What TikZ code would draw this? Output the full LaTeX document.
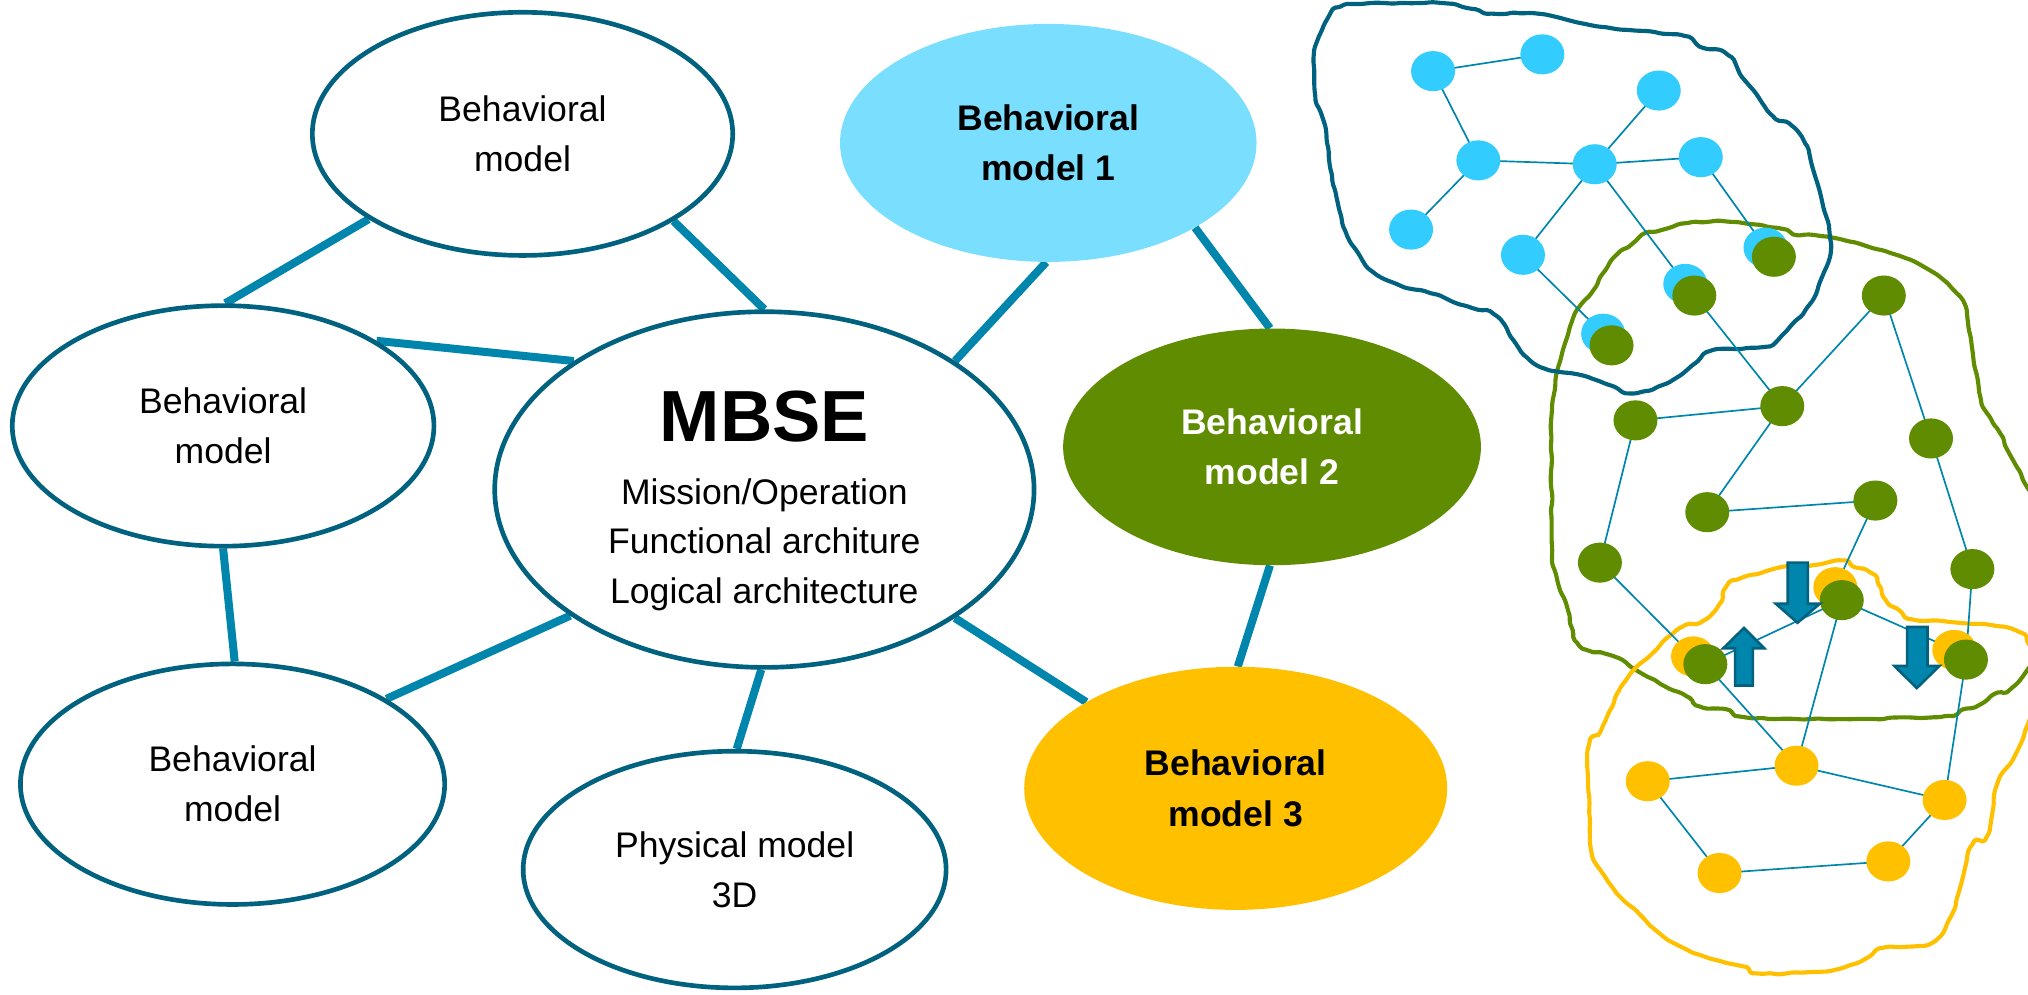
\documentclass[tikz,border=0pt]{standalone}
\usepackage{fontspec}
\setmainfont{Liberation Sans}
\usetikzlibrary{shapes.geometric,decorations.pathmorphing}
\definecolor{rim}{HTML}{00627F}
\definecolor{link}{HTML}{0085AD}
\definecolor{skyfill}{HTML}{7ADFFF}
\definecolor{nodeblue}{HTML}{33CCFF}
\definecolor{mbgreen}{HTML}{5F8C00}
\definecolor{mbyellow}{HTML}{FFC000}
\pgfdeclarelayer{background}
\pgfsetlayers{background,main}
\begin{document}
\begin{tikzpicture}[x=1pt,y=-1pt,
  bubble/.style={ellipse, draw=rim, line width=3.6pt, fill=white, inner sep=0pt,
    align=center, font=\fontsize{27.5}{38.7}\selectfont},
  keybubble/.style={ellipse, inner sep=0pt, align=center,
    font=\fontsize{27.5}{38.7}\selectfont\bfseries},
  linetext/.style={anchor=base, inner sep=0pt, font=\fontsize{27.5}{38.7}\selectfont},
  bond/.style={draw=link, line width=6.2pt},
  netdot/.style={ellipse, inner sep=0pt, minimum width=34pt, minimum height=31pt},
  bluedot/.style={netdot, fill=nodeblue},
  greendot/.style={netdot, fill=mbgreen},
  yellowdot/.style={netdot, fill=mbyellow},
  wire/.style={draw=link, line width=1.3pt},
  rimline/.style={line width=3.2pt, line join=round, rounded corners=1.5pt,
    decoration={random steps, segment length=6pt, amplitude=0.8pt}, decorate},
  blockarrow/.style={fill=link, draw=rim, line width=2pt, line join=miter}]
\useasboundingbox (0,0) rectangle (1568,769);

% ---------- mind map of models ----------
\node[bubble, minimum width=325pt, minimum height=188pt] (bmtop) at (404,103.5) {Behavioral\\model};
\node[bubble, minimum width=326pt, minimum height=186pt] (bmleft) at (172.5,329.3) {Behavioral\\model};
\node[bubble, minimum width=328pt, minimum height=186pt] (bmlow) at (179.8,606.3) {Behavioral\\model};
\node[bubble, minimum width=327pt, minimum height=183pt] (phys) at (568,672.3) {Physical model\\3D};
\node[bubble, minimum width=417pt, minimum height=275pt] (mbse) at (591,378.5) {};
\node[anchor=base, inner sep=0pt, font=\fontsize{56}{60}\selectfont\bfseries] (mbsetitle) at (591,341.5) {MBSE};
\node[linetext] (mbseops) at (591,389.7) {Mission/Operation};
\node[linetext] (mbsefun) at (591,428.3) {Functional architure};
\node[linetext] (mbselog) at (591,466.5) {Logical architecture};

\node[keybubble, fill=skyfill, minimum width=322pt, minimum height=184pt] (bm1) at (810.5,110.5) {Behavioral\\model 1};
\node[keybubble, fill=mbgreen, text=white, minimum width=323pt, minimum height=183pt] (bm2) at (983.5,345.5) {Behavioral\\model 2};
\node[keybubble, fill=mbyellow, minimum width=327pt, minimum height=188pt] (bm3) at (955.4,609.5) {Behavioral\\model 3};

\begin{pgfonlayer}{background}
\draw[bond] (bmtop.209.8) -- (bmleft.89.3);
\draw[bond] (bmtop.330.3) -- (mbse.90.5);
\draw[bond] (bmleft.29.4) -- (mbse.146.8);
\draw[bond] (bmleft.270) -- (bmlow.89.6);
\draw[bond] (mbse.213.5) -- (bmlow.29.1);
\draw[bond] (mbse.269.6) -- (phys.89.8);
\draw[bond] (mbse.326.5) -- (bm3.150.6);
\draw[bond] (mbse.34) -- (bm1.269.1);
\draw[bond] (bm1.330.4) -- (bm2.91.8);
\draw[bond] (bm2.269.1) -- (bm3.89.5);
\end{pgfonlayer}

% ---------- network nodes: blue model ----------
\node[bluedot] (b1) at (1108,55) {};
\node[bluedot] (b2) at (1192.5,42) {};
\node[bluedot] (b3) at (1282.5,70) {};
\node[bluedot] (b4) at (1143,124) {};
\node[bluedot] (b5) at (1233,127) {};
\node[bluedot] (b6) at (1315,121.5) {};
\node[bluedot] (b7) at (1091,177.5) {};
\node[bluedot] (b8) at (1177.5,197) {};
\node[bluedot] (b9) at (1365,191.5) {};
\node[bluedot] (b10) at (1303,219.5) {};
\node[bluedot] (b11) at (1239.5,258) {};
% yellow nodes shared with the green model
\node[yellowdot] (yb12) at (1419,454) {};
\node[yellowdot] (yb13) at (1309,507.5) {};
\node[yellowdot] (yb14) at (1511,502.5) {};
% green model
\node[greendot] (g1) at (1246,267) {};
\node[greendot] (g2) at (1310,228.5) {};
\node[greendot] (g3) at (1371.5,198.5) {};
\node[greendot] (g4) at (1456.5,228.5) {};
\node[greendot] (g5) at (1264.5,325) {};
\node[greendot] (g6) at (1378,314) {};
\node[greendot] (g7) at (1493,339) {};
\node[greendot] (g8) at (1320,396) {};
\node[greendot] (g9) at (1450,387) {};
\node[greendot] (g10) at (1237,435) {};
\node[greendot] (g11) at (1525,440) {};
\node[greendot] (g12) at (1424,464) {};
\node[greendot] (g13) at (1318.5,513.5) {};
\node[greendot] (g14) at (1520,510) {};
% yellow model
\node[yellowdot] (y1) at (1274,604) {};
\node[yellowdot] (y2) at (1389,592) {};
\node[yellowdot] (y3) at (1503.5,618.5) {};
\node[yellowdot] (y4) at (1329.5,675) {};
\node[yellowdot] (y5) at (1460,666) {};

\begin{pgfonlayer}{background}
\begin{scope}
\clip (0,0) rectangle (1568,769);
% the outlines are built near the origin and moved in place on the canvas,
% which keeps the decoration arithmetic small
\begin{scope}[transform canvas={shift={(1300,380)}}]
\begin{scope}[shift={(-1300,-380)}]
% green model boundary
\draw[rimline, draw=mbgreen] plot[smooth cycle, tension=0.5] coordinates {
  (1199.3,324.7) (1203,291.2) (1208.4,270.6) (1213.9,252.6) (1219.3,239.7)
  (1230.2,226.8) (1237.5,213.9) (1248.4,198.5) (1259.4,190.7) (1266.6,183)
  (1284.8,177.8) (1303,172.7) (1335.8,171.4) (1375.8,176.5) (1383.1,180.4)
  (1415.8,183.5) (1448.5,192) (1470.4,198.5) (1484.9,204.9) (1499.5,213.9)
  (1510.4,224.2) (1517.7,232) (1521.3,247.4) (1525,270.6) (1531,306)
  (1538.5,322) (1545,332.6) (1550.2,344.3) (1558.1,358.9) (1564.6,372)
  (1570.7,382.2) (1580,420) (1582,480) (1576,503) (1570.7,513.5)
  (1558.1,529.6) (1547.6,534) (1531.9,544.2) (1524,547.1) (1497.8,554.4)
  (1387.7,555.8) (1348.4,554.4) (1340.5,550) (1317,547.1) (1306.5,539.8)
  (1290.7,532.5) (1281.6,526.7) (1267.2,519.4) (1259.3,513.5) (1243.6,506.2)
  (1231.8,504.2) (1221.3,499) (1216,487.3) (1213.4,475.6) (1204.3,449.3)
  (1200.3,426) (1199.5,338.5)};
% yellow model boundary
\draw[rimline, draw=mbyellow] plot[smooth cycle, tension=0.5] coordinates {
  (1227.8,579.2) (1234.4,570.4) (1238.3,563.1) (1243.6,551.5) (1250.1,536.9)
  (1261.9,519.4) (1275,507.7) (1282.9,499) (1298.6,485.8) (1314.3,481.4)
  (1327.4,469.8) (1332.7,456.6) (1340.5,449.3) (1364.1,442) (1382.5,437.7)
  (1400.8,437.1) (1421.8,433.3) (1429.7,437.1) (1442.8,440.6) (1450.6,449.3)
  (1455.9,461) (1463.7,468.3) (1475.5,478) (1500.4,480) (1537.1,482.9)
  (1558.1,487.3) (1566,494.6) (1575,505) (1578,530) (1570.7,551.5)
  (1558.1,583.6) (1545,604) (1541.1,624.4) (1537.1,644.8) (1526.6,650.6)
  (1520,668.2) (1514.8,688.6) (1509.6,706.1) (1500.4,723.6) (1487.3,730.9)
  (1458.5,732.4) (1445.4,739.6) (1432.3,745.5) (1406.1,751.3) (1361.5,752.8)
  (1353.6,748.4) (1322.2,741.1) (1306.5,735.3) (1285.5,723.6) (1269.8,709)
  (1256.7,697.4) (1248.8,688.6) (1238.3,674) (1231.8,665.3) (1229.2,641.9)
  (1227.8,601.1)};
% blue model boundary
\draw[rimline, draw=rim] plot[smooth cycle, tension=0.5] coordinates {
  (1033.8,6.4) (1070.2,2.6) (1117.5,2.6) (1135.6,6.4) (1150.2,10.3)
  (1186.6,10.3) (1223,18) (1259.4,23.2) (1299.4,27.1) (1313.9,36.1)
  (1333.9,41.2) (1346.7,59.3) (1357.6,72.2) (1368.5,87.6) (1383.1,95.4)
  (1394,108.2) (1401.2,128.9) (1408.5,154.6) (1415.8,190.7) (1406.7,219.1)
  (1397.6,237.1) (1379.4,257.7) (1364.9,268) (1324.9,270.6) (1310.3,280.9)
  (1288.5,296.4) (1263,304.1) (1248.4,299) (1233.9,293.8) (1215.7,288.7)
  (1197.5,286.1) (1183,278.4) (1172,265.5) (1157.5,244.8) (1135.6,237.1)
  (1106.5,226.8) (1084.7,221.6) (1062.9,211.3) (1052,198.5) (1041,180.4)
  (1033.8,154.6) (1028.3,128.9) (1024.7,97.9) (1017.4,77.3) (1015.6,45.1)
  (1021,25.8)};
\end{scope}
\end{scope}
\end{scope}
% links inside the blue model
\draw[wire] (b1.center) -- (b2.center);
\draw[wire] (b1.center) -- (b4.center);
\draw[wire] (b4.center) -- (b5.center);
\draw[wire] (b4.center) -- (b7.center);
\draw[wire] (b5.center) -- (b6.center);
\draw[wire] (b5.center) -- (b3.center);
\draw[wire] (b5.center) -- (b8.center);
\draw[wire] (b5.center) -- (b10.center);
\draw[wire] (b6.center) -- (b9.center);
\draw[wire] (b8.center) -- (b11.center);
% links inside the green model
\draw[wire] (g2.center) -- (g6.center);
\draw[wire] (g4.center) -- (g6.center);
\draw[wire] (g4.center) -- (g7.center);
\draw[wire] (g5.center) -- (g6.center);
\draw[wire] (g5.center) -- (g10.center);
\draw[wire] (g6.center) -- (g8.center);
\draw[wire] (g8.center) -- (g9.center);
\draw[wire] (g9.center) -- (yb12.center);
\draw[wire] (g7.center) -- (g11.center);
\draw[wire] (g10.center) -- (yb13.center);
\draw[wire] (g11.center) -- (g14.center);
\draw[wire] (g12.center) -- (yb14.center);
\draw[wire] (g12.center) -- (g13.center);
% links down into the yellow model
\draw[wire] (g13.center) -- (y2.center);
\draw[wire] (g12.center) -- (y2.center);
\draw[wire] (g14.center) -- (y3.center);
\draw[wire] (y2.center) -- (y1.center);
\draw[wire] (y2.center) -- (y3.center);
\draw[wire] (y1.center) -- (y4.center);
\draw[wire] (y4.center) -- (y5.center);
\draw[wire] (y5.center) -- (y3.center);
\end{pgfonlayer}

% ---------- exchange arrows between the models ----------
\draw[blockarrow] (1382.2,435) -- (1397.8,435) -- (1397.8,466.8) -- (1407,466.8)
  -- (1389.8,481.5) -- (1373,466.8) -- (1382.2,466.8) -- cycle;
\draw[blockarrow] (1341.6,530) -- (1355.3,530) -- (1355.3,501.2) -- (1364,501.2)
  -- (1348.4,485.5) -- (1332.4,501.2) -- (1341.6,501.2) -- cycle;
\draw[blockarrow] (1474.5,484.8) -- (1490.3,484.8) -- (1490.3,514.9) -- (1499.5,514.9)
  -- (1482,532) -- (1464.7,514.9) -- (1474.5,514.9) -- cycle;
\end{tikzpicture}
\end{document}
